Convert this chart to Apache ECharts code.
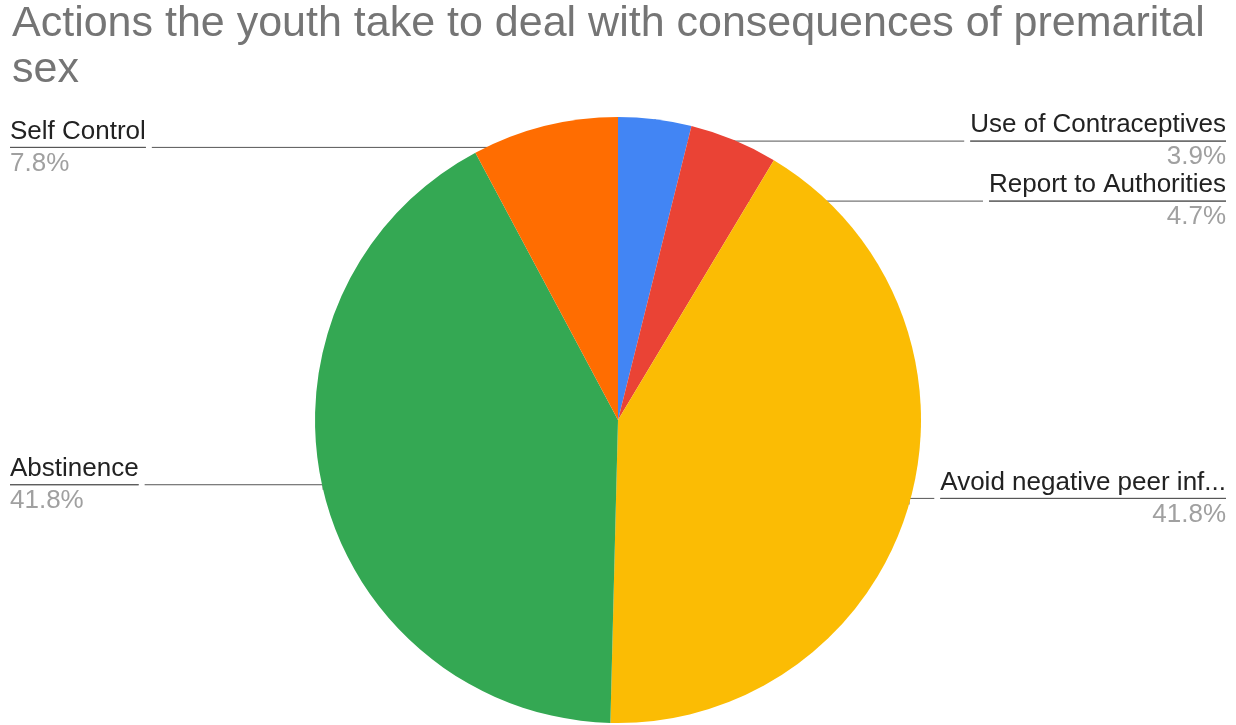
<!DOCTYPE html>
<html>
<head>
<meta charset="utf-8">
<script src="https://cdn.jsdelivr.net/npm/echarts@6/dist/echarts.min.js"></script>
<style>
  html, body { margin: 0; padding: 0; background: #fff; }
  #chart { width: 1236px; height: 725px; }
</style>
</head>
<body>
<div id="chart"></div>
<script>
// slice names, clockwise from 12 o'clock
const categories = ['Use of Contraceptives', 'Report to Authorities', 'Avoid negative peer inf...', 'Abstinence', 'Self Control'];
// share of each slice, in percent
const values = [3.9, 4.7, 41.8, 41.8, 7.8];
const colors = ['#4285f4', '#ea4335', '#fbbc04', '#34a853', '#ff6d01'];

const font = 'Liberation Sans, Arial, sans-serif';
const chart = echarts.init(document.getElementById('chart'));

const option = {
  animation: false,
  title: {
    text: 'Actions the youth take to deal with consequences of premarital sex',
    left: 7,
    top: -4,
    textStyle: {
      color: '#757575',
      fontFamily: font,
      fontWeight: 'normal',
      fontSize: 43,
      lineHeight: 46,
      width: 1225,
      overflow: 'break'
    }
  },
  color: colors,
  series: [
    {
      type: 'pie',
      center: [618, 420],
      radius: 303,
      startAngle: 90,
      clockwise: true,
      data: categories.map((name, i) => ({ name: name, value: values[i] })),
      itemStyle: { borderWidth: 0 },
      label: {
        alignTo: 'edge',
        edgeDistance: 10,
        fontFamily: font,
        formatter: p => '{name|' + p.name + '}\n{hr|}\n{per|' + p.value.toFixed(1) + '%}',
        rich: {
          name: { fontSize: 26, color: '#222', lineHeight: 32, fontFamily: font },
          hr: { borderColor: '#555', width: '100%', borderWidth: 1, height: 0 },
          per: { fontSize: 26, color: '#a0a0a0', lineHeight: 32, fontFamily: font }
        }
      },
      // negative first segment: the leader starts a little inside the slice
      labelLine: {
        length: -22,
        length2: 10,
        maxSurfaceAngle: 180,
        lineStyle: { color: '#555', width: 1 }
      },
      emphasis: { disabled: true }
    }
  ]
};

chart.setOption(option);
</script>
</body>
</html>
